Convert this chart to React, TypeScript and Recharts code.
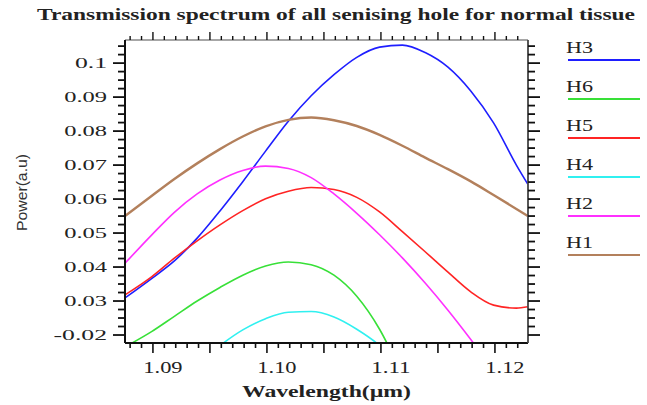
import { Label, Line, LineChart, XAxis, YAxis } from "recharts";

// wavelength grid (µm)
const wavelength = [1.08667, 1.089, 1.091, 1.093, 1.095, 1.097, 1.099, 1.101, 1.103, 1.105, 1.107, 1.109, 1.111, 1.113, 1.115, 1.117, 1.119, 1.121, 1.122];

const h3 = [0.0309, 0.0366, 0.0418, 0.0485, 0.0565, 0.0651, 0.0741, 0.0829, 0.0904, 0.0966, 0.1017, 0.1047, 0.1053, 0.1031, 0.0988, 0.0918, 0.0824, 0.07, 0.0644];
const h6 = [0.0165, 0.021, 0.0255, 0.03, 0.034, 0.0376, 0.0403, 0.0415, 0.0407, 0.0376, 0.0314, 0.0217, 0.0082, null, null, null, null, null, null];
const h5 = [0.0318, 0.0371, 0.0426, 0.0477, 0.0524, 0.0566, 0.0601, 0.0623, 0.0634, 0.0628, 0.0605, 0.0562, 0.0504, 0.0445, 0.0385, 0.0327, 0.0288, 0.0279, 0.0283];
const h4 = [null, null, null, 0.0115, 0.0169, 0.0215, 0.0248, 0.0267, 0.0269, 0.0253, 0.0217, 0.0169, 0.0097, null, null, null, null, null, null];
const h2 = [0.0411, 0.0494, 0.0561, 0.0615, 0.0656, 0.0684, 0.0697, 0.069, 0.0663, 0.0615, 0.0558, 0.0495, 0.0427, 0.0353, 0.0273, 0.0187, 0.0097, null, null];
const h1 = [0.055, 0.0609, 0.0659, 0.0705, 0.0747, 0.0784, 0.0814, 0.0833, 0.084, 0.0832, 0.0815, 0.0789, 0.0757, 0.0722, 0.0688, 0.0652, 0.0612, 0.0571, 0.055];

const xTickValues = [1.09, 1.1, 1.11, 1.12];
const xTickLabels = ["1.09", "1.10", "1.11", "1.12"];
const yTickValues = [0.02, 0.03, 0.04, 0.05, 0.06, 0.07, 0.08, 0.09, 0.1];
const yTickLabels = ["-0.02", "0.03", "0.04", "0.05", "0.06", "0.07", "0.08", "0.09", "0.1"];

const X_DOMAIN: [number, number] = [1.08667, 1.12202];
const Y_DOMAIN: [number, number] = [0.01765, 0.1068];

// minor tick marks: every 0.001 on x (offset from the labels, as in the figure), every 0.0025 on y
const xMinor = Array.from({ length: 35 }, (_, k) => +(1.08712 + k * 0.001).toFixed(5));
const yMinor = Array.from({ length: 35 }, (_, k) => +(0.02 + k * 0.0025).toFixed(4));

const series = [
  { key: "H3", values: h3, color: "#1e1eff", width: 1.6 },
  { key: "H6", values: h6, color: "#38e038", width: 1.6 },
  { key: "H5", values: h5, color: "#ff2424", width: 1.6 },
  { key: "H4", values: h4, color: "#30f0f0", width: 1.6 },
  { key: "H2", values: h2, color: "#ff30ff", width: 1.6 },
  { key: "H1", values: h1, color: "#b3805c", width: 2.4 },
];

const data = wavelength.map((wl, i) => {
  const row: Record<string, number | null> = { wl };
  series.forEach((s) => (row[s.key] = s.values[i]));
  return row;
});

const SERIF = "'Liberation Serif', 'DejaVu Serif', serif";

const isXMajor = (v: number) => Math.abs(((v - 1.08912) / 0.005) - Math.round((v - 1.08912) / 0.005)) < 1e-4;
const yMajorIndex = (v: number) => yTickValues.findIndex((t) => Math.abs(t - v) < 1e-6);

function BottomTick(props: any) {
  const { x, y, payload } = props;
  const v = payload.value;
  const li = xTickValues.findIndex((t) => Math.abs(t - v) < 1e-7);
  if (li >= 0) {
    const s = xTickLabels[li];
    return (
      <text x={x} y={y + 30} textAnchor="middle" fontFamily={SERIF} fontSize={16} fill="#222" textLength={s.length * 9.8} lengthAdjust="spacingAndGlyphs">
        {s}
      </text>
    );
  }
  return <line x1={x} x2={x} y1={y} y2={y + (isXMajor(v) ? 10 : 5)} stroke="#111" strokeWidth={1.6} />;
}

function TopTick(props: any) {
  const { x, y, payload } = props;
  return <line x1={x} x2={x} y1={y} y2={y - (isXMajor(payload.value) ? 8 : 4)} stroke="#111" strokeWidth={1.4} />;
}

function LeftTick(props: any) {
  const { x, y, payload } = props;
  const mi = yMajorIndex(payload.value);
  const s = mi >= 0 ? yTickLabels[mi] : "";
  return (
    <g>
      <line x1={x} x2={x - (mi >= 0 ? 12 : 7)} y1={y} y2={y} stroke="#111" strokeWidth={1.8} />
      {mi >= 0 && (
        <text x={x - 18} y={y + 5} textAnchor="end" fontFamily={SERIF} fontSize={15} fill="#222" textLength={s.length * 10.7} lengthAdjust="spacingAndGlyphs">
          {s}
        </text>
      )}
    </g>
  );
}

function RightTick(props: any) {
  const { x, y, payload } = props;
  const major = yMajorIndex(payload.value) >= 0;
  return <line x1={x} x2={x + (major ? 12 : 7)} y1={y} y2={y} stroke="#111" strokeWidth={1.8} />;
}

export default function App() {
  const legendTop = 60;
  const legendStep = 39;
  return (
    <div style={{ position: "absolute", left: 0, top: 0, width: 647, height: 405, background: "#fff" }}>
      <LineChart width={647} height={405} data={data} margin={{ top: 30, right: 99, bottom: 22, left: 65 }}>
        <XAxis
          dataKey="wl"
          type="number"
          domain={X_DOMAIN}
          allowDataOverflow
          ticks={[...xMinor, ...xTickValues]}
          interval={0}
          tick={<BottomTick />}
          tickLine={false}
          tickSize={0}
          tickMargin={0}
          height={40}
          axisLine={{ stroke: "#111", strokeWidth: 2 }}
        >
          <Label
            content={(p: any) => {
              const vb = p.viewBox;
              return (
                <text x={vb.x + vb.width / 2} y={vb.y + 54} textAnchor="middle" fontFamily={SERIF} fontWeight="bold" fontSize={17} fill="#222" textLength={169} lengthAdjust="spacingAndGlyphs">
                  Wavelength(µm)
                </text>
              );
            }}
          />
        </XAxis>
        <XAxis
          xAxisId="top"
          orientation="top"
          dataKey="wl"
          type="number"
          domain={X_DOMAIN}
          allowDataOverflow
          ticks={xMinor}
          interval={0}
          tick={<TopTick />}
          tickLine={false}
          tickSize={0}
          tickMargin={0}
          height={10}
          axisLine={{ stroke: "#888", strokeWidth: 1.5 }}
        />
        <YAxis
          type="number"
          domain={Y_DOMAIN}
          allowDataOverflow
          ticks={yMinor}
          interval={0}
          tick={<LeftTick />}
          tickLine={false}
          tickSize={0}
          tickMargin={0}
          width={60}
          axisLine={{ stroke: "#111", strokeWidth: 2 }}
        >
          <Label
            content={(p: any) => {
              const vb = p.viewBox;
              const cx = vb.x - 44;
              const cy = vb.y + vb.height / 2 + 1;
              return (
                <text x={cx} y={cy} transform={`rotate(-90 ${cx} ${cy})`} textAnchor="middle" dominantBaseline="central" fontFamily="'Liberation Sans', Arial, sans-serif" fontSize={15} fill="#333" textLength={77} lengthAdjust="spacingAndGlyphs">
                  Power(a.u)
                </text>
              );
            }}
          />
        </YAxis>
        <YAxis
          yAxisId="right"
          orientation="right"
          type="number"
          domain={Y_DOMAIN}
          allowDataOverflow
          ticks={yMinor}
          interval={0}
          tick={<RightTick />}
          tickLine={false}
          tickSize={0}
          tickMargin={0}
          width={20}
          axisLine={{ stroke: "#444", strokeWidth: 1.8 }}
        />
        {series.map((s) => (
          <Line
            key={s.key}
            dataKey={s.key}
            type="monotone"
            stroke={s.color}
            strokeWidth={s.width}
            dot={false}
            isAnimationActive={false}
          />
        ))}
      </LineChart>
      <svg width={647} height={405} style={{ position: "absolute", left: 0, top: 0, pointerEvents: "none" }}>
        <text x={37} y={20} fontFamily={SERIF} fontWeight="bold" fontSize={16} fill="#222" textLength={598} lengthAdjust="spacingAndGlyphs">
          Transmission spectrum of all senising hole for normal tissue
        </text>
        {series.map((s, i) => {
          const ly = legendTop + i * legendStep;
          return (
            <g key={s.key}>
              <text x={566} y={ly - 7} fontFamily={SERIF} fontSize={17} fill="#222" textLength={27} lengthAdjust="spacingAndGlyphs">
                {s.key}
              </text>
              <line x1={568} x2={640} y1={ly} y2={ly} stroke={s.color} strokeWidth={2} />
            </g>
          );
        })}
      </svg>
    </div>
  );
}
